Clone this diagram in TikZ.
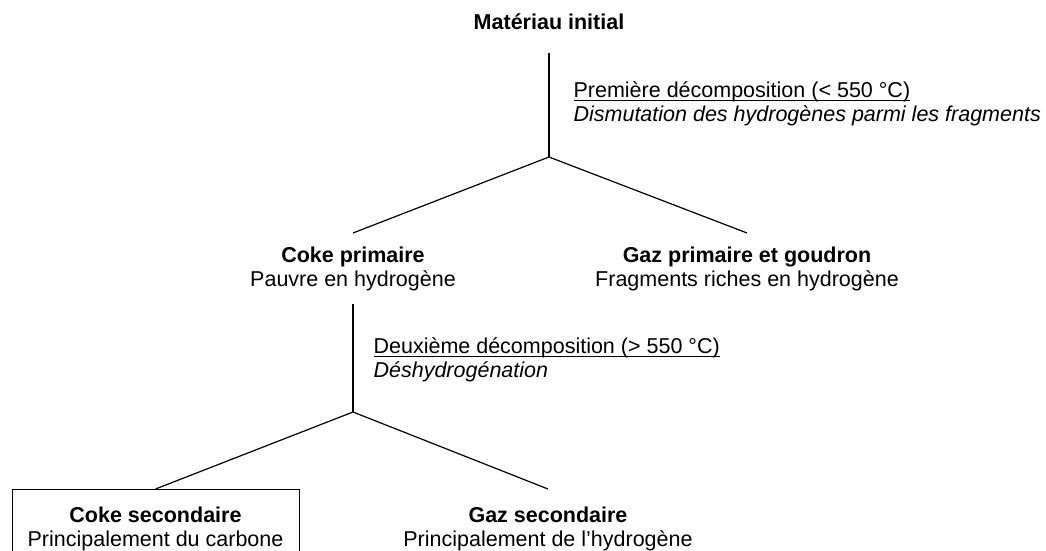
\documentclass[tikz,border=0pt]{standalone}
\usepackage{fontspec}
\setmainfont{Liberation Sans}
\usetikzlibrary{positioning}
\newcommand{\ulbl}[1]{\setbox0\hbox{#1}\rlap{\rule[-2.6pt]{\wd0}{1pt}}\box0}

\begin{document}
\begin{tikzpicture}[x=1pt, y=-1pt, line width=1.2pt,
    txt/.style={align=center, inner xsep=0pt, inner ysep=13pt, anchor=north,
      font=\fontsize{21.5}{24}\selectfont},
    lbl/.style={align=left, inner sep=0pt, anchor=north west,
      font=\fontsize{21.5}{24}\selectfont},
    tbox/.style={txt, draw, line width=0.9pt, inner ysep=17pt, minimum width=287pt},
  ]
\useasboundingbox (0,0) rectangle (1046,551);
% Level 1
\node (init) at (549,22) [txt, anchor=center, inner ysep=0pt] {\textbf{Matériau initial}};
\coordinate (j1) at (549,157);
\node (lbla) at (573,81.5) [lbl]
  {\ulbl{Première décomposition (< 550 °C)}\\\textit{Dismutation des hydrogènes parmi les fragments}};
% Level 2
\node (cokep) at (353,233) [txt] {\textbf{Coke primaire}\\Pauvre en hydrogène};
\node (gazp)  at (747,233) [txt] {\textbf{Gaz primaire et goudron}\\Fragments riches en hydrogène};
\coordinate (j2) at (cokep.south |- 0,412);
\node (lblb) at (373,337.5) [lbl]
  {\ulbl{Deuxième décomposition (> 550 °C)}\\\textit{Déshydrogénation}};
% Level 3
\node (cokes) at (155.5,489) [tbox] {\textbf{Coke secondaire}\\Principalement du carbone};
\node (gazs)  at (548,489) [txt, inner ysep=17pt] {\textbf{Gaz secondaire}\\Principalement de l’hydrogène};

\draw[shorten <=22pt] (init.south) -- (j1);
\draw (j1) -- (cokep.north); \draw (j1) -- (gazp.north);
\draw (cokep.south) -- (j2);
\draw (j2) -- (cokes.north); \draw (j2) -- (gazs.north);
\end{tikzpicture}
\end{document}
